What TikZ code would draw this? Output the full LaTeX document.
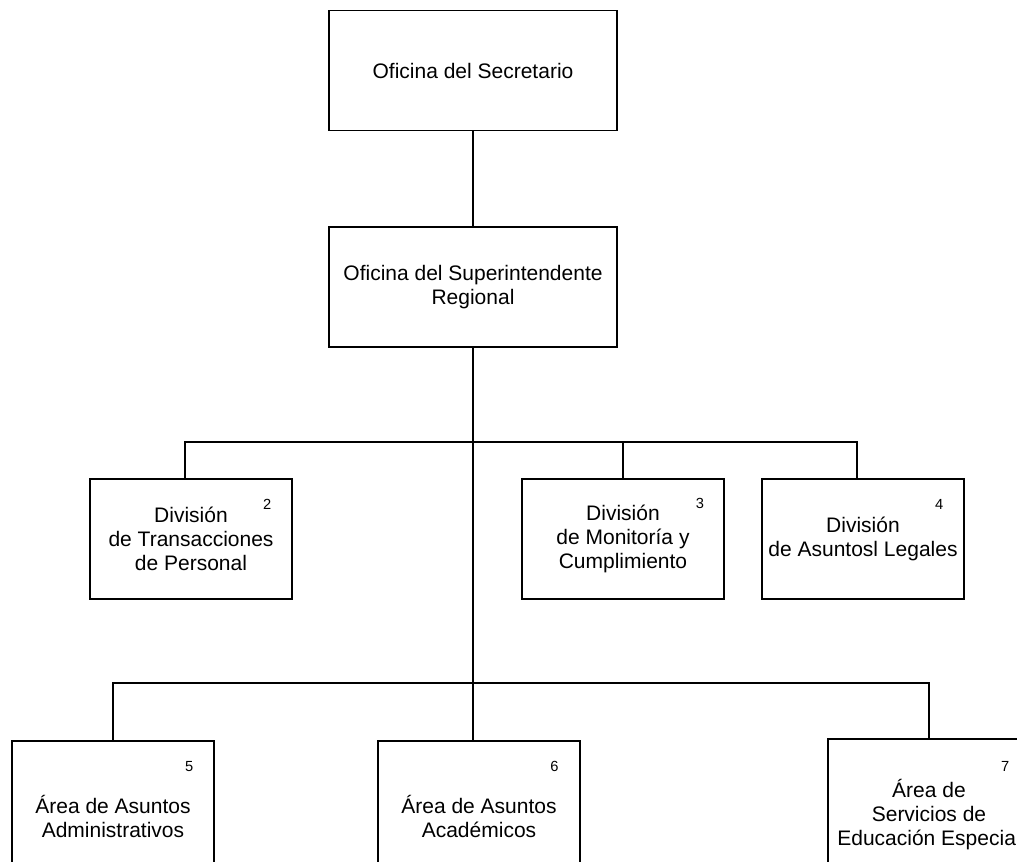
\documentclass[tikz,border=0pt]{standalone}
\usepackage{fontspec}
\setmainfont{Liberation Sans}
\begin{document}
\begin{tikzpicture}[x=0.75pt,y=-0.75pt,
  unit/.style={draw=black, line width=1.3pt, align=center, inner sep=0pt,
    font=\fontsize{15.75pt}{18pt}\selectfont},
  topbox/.style={unit, minimum width=216pt, minimum height=90pt},
  divbox/.style={unit, minimum width=152pt, minimum height=90pt},
  areabox/.style={unit, minimum width=152pt, minimum height=112pt},
  numlabel/.style={inner sep=0pt, font=\fontsize{11pt}{12pt}\selectfont},
  link/.style={line width=1.3pt}]
\useasboundingbox (0,0) rectangle (1017,861);
\clip (0,0) rectangle (1017,861);
\fill[white] (0,0) rectangle (1017,861);

\node[topbox] (sec) at (473,70.5) {Oficina del Secretario};
\node[topbox] (sup) at (473,287) {Oficina del Superintendente\\Regional};

\node[divbox] (d2) at (191,539) {División\\de Transacciones\\de Personal};
\node[divbox] (d3) at (623,539) {División\\de Monitoría y\\Cumplimiento};
\node[divbox] (d4) at (863,539) {División\\de Asuntosl Legales};

\node[areabox] (a5) at (113,816) {Área de Asuntos\\Administrativos};
\node[areabox] (a6) at (479,816) {Área de Asuntos\\Académicos};
\node[areabox, minimum height=114pt] (a7) at (929,815) {Área de\\Servicios de\\Educación Especial};

\node[numlabel] (n2) at ([xshift=-19.5pt,yshift=-19.5pt]d2.north east) {2};
\node[numlabel] (n3) at ([xshift=-19pt,yshift=-19pt]d3.north east) {3};
\node[numlabel] (n4) at ([xshift=-19.5pt,yshift=-19.5pt]d4.north east) {4};
\node[numlabel] (n5) at ([xshift=-19.5pt,yshift=-19.5pt]a5.north east) {5};
\node[numlabel] (n6) at ([xshift=-20pt,yshift=-19.5pt]a6.north east) {6};
\node[numlabel] (n7) at ([xshift=-19.5pt,yshift=-21.5pt]a7.north east) {7};

\coordinate (j1) at (473,442);
\coordinate (j2) at (473,683);

\draw[link] (sec) -- (sup);
\draw[link] (sup.south) -- (sup.south |- a6.north);
\draw[link] ([xshift=-4.5pt]d2.north) |- ([xshift=-4.5pt]d4.north |- j1) -- ([xshift=-4.5pt]d4.north);
\draw[link] (d3.north) -- (d3.north |- j1);
\draw[link] (a5.north) |- (a7.north |- j2) -- (a7.north);
\end{tikzpicture}
\end{document}
